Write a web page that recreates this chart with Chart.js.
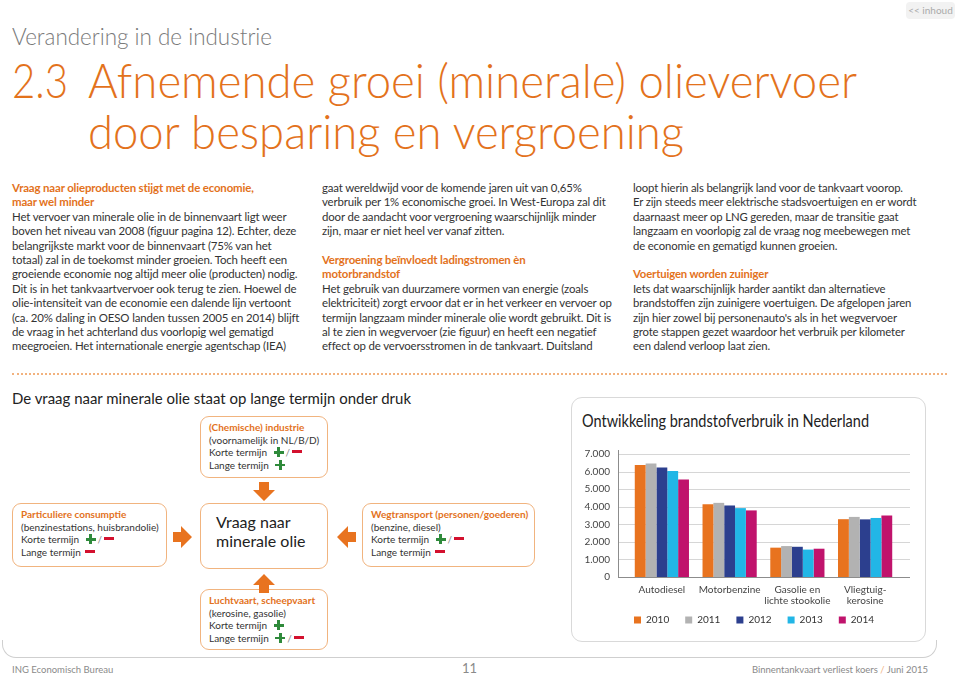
<!DOCTYPE html>
<html>
<head>
<meta charset="utf-8">
<script src="https://cdn.jsdelivr.net/npm/chart.js@4.4.1/dist/chart.umd.min.js"></script>
<style>
  html,body{margin:0;padding:0;background:#fff;}
  body{width:959px;height:676px;position:relative;overflow:hidden;font-family:Lato,"Open Sans",sans-serif;color:#333;}
  .abs{position:absolute;}
  .l{white-space:nowrap;width:max-content;}
  .fitx{display:inline-block;white-space:nowrap;transform-origin:0 50%;}
  .hb{color:#e3721c;font-weight:700;}
  .col{position:absolute;font-size:11.5px;line-height:14.4px;color:#333;letter-spacing:-0.15px;}
  .box{position:absolute;border:1px solid #f1b47f;border-radius:9px;background:#fff;box-sizing:border-box;font-size:10px;line-height:12.5px;color:#333;padding:4px 0 0 8px;}
  .box .t{color:#e3721c;font-weight:700;}
  .plus{display:inline-block;width:10px;height:10px;position:relative;vertical-align:-1px;margin-left:4px;}
  .plus::before{content:'';position:absolute;left:0;top:4px;width:10px;height:2.6px;background:#2f8a3b;}
  .plus::after{content:'';position:absolute;left:3.7px;top:0;width:2.6px;height:10px;background:#2f8a3b;}
  .minus{display:inline-block;width:10px;height:2.6px;background:#d3112e;vertical-align:3px;margin-left:2px;}
  .sl{color:#888;margin-left:2px;}
</style>
</head>
<body>

<!-- top-right nav -->
<div class="abs" style="left:906px;top:2px;width:49px;height:17px;background:#f2f2f2;border-radius:4px;font-size:10px;line-height:17px;text-align:center;color:#aaa;">&lt;&lt; inhoud</div>

<!-- headings -->
<div class="abs" style="left:12px;top:25px;font-size:23px;line-height:23px;font-weight:300;color:#7a7a7a;"><span id="h0" class="fitx">Verandering in de industrie</span></div>
<div class="abs" style="left:12px;top:57px;font-size:48px;line-height:46px;font-weight:300;color:#e3721c;"><span id="h1a" class="fitx">2.3</span></div>
<div class="abs" style="left:88px;top:57px;font-size:48px;line-height:46px;font-weight:300;color:#e3721c;"><span id="h1b" class="fitx">Afnemende groei (minerale) olievervoer</span></div>
<div class="abs" style="left:88px;top:108px;font-size:48px;line-height:46px;font-weight:300;color:#e3721c;"><span id="h2" class="fitx">door besparing en vergroening</span></div>

<!-- text columns -->
<div id="c1" class="col" style="left:12px;top:181px;">
  <div class="l hb">Vraag naar olieproducten stijgt met de economie,</div>
  <div class="l hb">maar wel minder</div>
  <div class="l">Het vervoer van minerale olie in de binnenvaart ligt weer</div>
  <div class="l">boven het niveau van 2008 (figuur pagina 12). Echter, deze</div>
  <div class="l">belangrijkste markt voor de binnenvaart (75% van het</div>
  <div class="l">totaal) zal in de toekomst minder groeien. Toch heeft een</div>
  <div class="l">groeiende economie nog altijd meer olie (producten) nodig.</div>
  <div class="l">Dit is in het tankvaartvervoer ook terug te zien. Hoewel de</div>
  <div class="l">olie-intensiteit van de economie een dalende lijn vertoont</div>
  <div class="l">(ca. 20% daling in OESO landen tussen 2005 en 2014) blijft</div>
  <div class="l">de vraag in het achterland dus voorlopig wel gematigd</div>
  <div class="l">meegroeien. Het internationale energie agentschap (IEA)</div>
</div>
<div id="c2" class="col" style="left:322px;top:181px;">
  <div class="l">gaat wereldwijd voor de komende jaren uit van 0,65%</div>
  <div class="l">verbruik per 1% economische groei. In West-Europa zal dit</div>
  <div class="l">door de aandacht voor vergroening waarschijnlijk minder</div>
  <div class="l">zijn, maar er niet heel ver vanaf zitten.</div>
  <div class="l">&nbsp;</div>
  <div class="l hb">Vergroening beïnvloedt ladingstromen èn</div>
  <div class="l hb">motorbrandstof</div>
  <div class="l">Het gebruik van duurzamere vormen van energie (zoals</div>
  <div class="l">elektriciteit) zorgt ervoor dat er in het verkeer en vervoer op</div>
  <div class="l">termijn langzaam minder minerale olie wordt gebruikt. Dit is</div>
  <div class="l">al te zien in wegvervoer (zie figuur) en heeft een negatief</div>
  <div class="l">effect op de vervoersstromen in de tankvaart. Duitsland</div>
</div>
<div id="c3" class="col" style="left:633px;top:181px;">
  <div class="l">loopt hierin als belangrijk land voor de tankvaart voorop.</div>
  <div class="l">Er zijn steeds meer elektrische stadsvoertuigen en er wordt</div>
  <div class="l">daarnaast meer op LNG gereden, maar de transitie gaat</div>
  <div class="l">langzaam en voorlopig zal de vraag nog meebewegen met</div>
  <div class="l">de economie en gematigd kunnen groeien.</div>
  <div class="l">&nbsp;</div>
  <div class="l hb">Voertuigen worden zuiniger</div>
  <div class="l">Iets dat waarschijnlijk harder aantikt dan alternatieve</div>
  <div class="l">brandstoffen zijn zuinigere voertuigen. De afgelopen jaren</div>
  <div class="l">zijn hier zowel bij personenauto's als in het wegvervoer</div>
  <div class="l">grote stappen gezet waardoor het verbruik per kilometer</div>
  <div class="l">een dalend verloop laat zien.</div>
</div>

<!-- dotted separator -->
<div class="abs" style="left:12px;top:373px;width:935px;height:0;border-top:2px dotted #f2b27e;"></div>

<!-- outer frame bottom -->
<div class="abs" style="left:2px;top:640px;width:935px;height:18px;border:1px solid #cfcfcf;border-top:none;border-radius:0 0 14px 14px;box-sizing:border-box;"></div>

<!-- diagram -->
<div class="abs" style="left:12px;top:388px;font-size:16px;line-height:20px;color:#222;"><span id="dt" class="fitx">De vraag naar minerale olie staat op lange termijn onder druk</span></div>

<div class="box" style="left:200px;top:416px;width:128px;height:62px;">
  <div class="l t">(Chemische) industrie</div>
  <div class="l">(voornamelijk in NL/B/D)</div>
  <div class="l">Korte termijn <span class="plus"></span><span class="sl">/</span><span class="minus"></span></div>
  <div class="l">Lange termijn <span class="plus"></span></div>
</div>
<div class="box" style="left:12px;top:503px;width:155px;height:64px;">
  <div class="l t">Particuliere consumptie</div>
  <div class="l">(benzinestations, huisbrandolie)</div>
  <div class="l">Korte termijn <span class="plus"></span><span class="sl">/</span><span class="minus"></span></div>
  <div class="l">Lange termijn <span class="minus"></span></div>
</div>
<div class="box" style="left:200px;top:503px;width:128px;height:66px;font-size:16px;line-height:19px;padding:8px 0 0 15px;color:#222;">
  <div class="l">Vraag naar</div>
  <div class="l">minerale olie</div>
</div>
<div class="box" style="left:362px;top:503px;width:173px;height:64px;">
  <div class="l t">Wegtransport (personen/goederen)</div>
  <div class="l">(benzine, diesel)</div>
  <div class="l">Korte termijn <span class="plus"></span><span class="sl">/</span><span class="minus"></span></div>
  <div class="l">Lange termijn <span class="minus"></span></div>
</div>
<div class="box" style="left:200px;top:589px;width:128px;height:61px;">
  <div class="l t">Luchtvaart, scheepvaart</div>
  <div class="l">(kerosine, gasolie)</div>
  <div class="l">Korte termijn <span class="plus"></span></div>
  <div class="l">Lange termijn <span class="plus"></span><span class="sl">/</span><span class="minus"></span></div>
</div>

<!-- arrows -->
<svg class="abs" style="left:253px;top:482px;" width="22" height="19"><polygon points="6,0 16,0 16,8 22,8 11,19 0,8 6,8" fill="#e8731f"/></svg>
<svg class="abs" style="left:253px;top:574px;" width="22" height="19"><polygon points="6,19 16,19 16,11 22,11 11,0 0,11 6,11" fill="#e8731f"/></svg>
<svg class="abs" style="left:173px;top:526px;" width="19" height="22"><polygon points="0,6 0,16 8,16 8,22 19,11 8,0 8,6" fill="#e8731f"/></svg>
<svg class="abs" style="left:337px;top:526px;" width="19" height="22"><polygon points="19,6 19,16 11,16 11,22 0,11 11,0 11,6" fill="#e8731f"/></svg>

<!-- chart card -->
<div class="abs" style="left:571px;top:397px;width:355px;height:245px;border:1px solid #d9d9d9;border-radius:11px;box-sizing:border-box;"></div>
<div class="abs" style="left:582px;top:411px;font-size:17px;line-height:20px;color:#222;"><span id="ct" class="fitx">Ontwikkeling brandstofverbruik in Nederland</span></div>
<div class="abs" style="left:571px;top:430px;width:370px;height:212px;"><canvas id="chart" width="370" height="212"></canvas></div>

<!-- footer -->
<div class="abs" style="left:12px;top:664px;font-size:9.5px;line-height:12px;color:#8a8a8a;white-space:nowrap;">ING Economisch Bureau</div>
<div class="abs" style="left:462px;top:661px;font-size:13px;line-height:14px;color:#8a8a8a;">11</div>
<div class="abs" style="right:31px;top:664px;text-align:right;font-size:9.5px;line-height:12px;color:#8a8a8a;white-space:nowrap;">Binnentankvaart verliest koers <span style="color:#f2b27e">/</span> Juni 2015</div>

<script>
// ---- data ----
const categories = [['Autodiesel'], ['Motorbenzine'], ['Gasolie en', 'lichte stookolie'], ['Vliegtuig-', 'kerosine']];
const years = ['2010', '2011', '2012', '2013', '2014'];
const values2010 = [6380, 4140, 1670, 3290];
const values2011 = [6460, 4220, 1760, 3420];
const values2012 = [6230, 4070, 1720, 3280];
const values2013 = [6030, 3920, 1560, 3360];
const values2014 = [5550, 3790, 1610, 3500];
const yTickValues = [0, 1000, 2000, 3000, 4000, 5000, 6000, 7000];

const seriesColors = ['#e8731f', '#b2b2b2', '#2c3f8e', '#22b6e6', '#c0136c'];
const seriesValues = [values2010, values2011, values2012, values2013, values2014];

function fmtNL(v){ return String(v).replace(/\B(?=(\d{3})+(?!\d))/g, '.'); }

// grid that extends a little past the category area, positioned by the y scale
const extGrid = {
  id: 'extGrid',
  afterLayout(chart){
    // lift the legend row closer to the category labels
    const lg = chart.legend;
    if (lg) { lg.top -= 7; lg.bottom -= 7; }
  },
  beforeDatasetsDraw(chart){
    const {ctx} = chart; const y = chart.scales.y;
    const x0 = 47, x1 = 339;
    ctx.save();
    ctx.lineWidth = 1;
    yTickValues.forEach(v => {
      const py = Math.round(y.getPixelForValue(v)) + 0.5;
      ctx.strokeStyle = v === 0 ? '#8c8c8c' : '#d6d6d6';
      ctx.beginPath(); ctx.moveTo(x0, py); ctx.lineTo(x1, py); ctx.stroke();
    });
    ctx.strokeStyle = '#8c8c8c';
    ctx.beginPath();
    ctx.moveTo(x0 + 0.5, y.getPixelForValue(7000) - 4);
    ctx.lineTo(x0 + 0.5, y.getPixelForValue(0) + 0.5);
    ctx.stroke();
    ctx.restore();
  }
};

Chart.defaults.font.family = 'Lato, "Open Sans", sans-serif';
new Chart(document.getElementById('chart'), {
  type: 'bar',
  data: {
    labels: categories,
    datasets: years.map((yr, i) => ({
      label: yr,
      data: seriesValues[i],
      backgroundColor: seriesColors[i],
      borderWidth: 0,
      categoryPercentage: 0.8,
      barPercentage: 1.0,
      yAxisID: 'y'
    }))
  },
  options: {
    responsive: false,
    animation: false,
    devicePixelRatio: 1,
    layout: { padding: { left: 0, right: 4, top: 18, bottom: 0 } },
    plugins: {
      legend: {
        position: 'bottom',
        labels: { boxWidth: 7, boxHeight: 7, padding: 16, color: '#333', font: { size: 10 } }
      },
      tooltip: { enabled: false }
    },
    scales: {
      x: {
        afterFit(scale){ scale.height = 29; },
        grid: { display: false, drawTicks: false },
        border: { display: false },
        ticks: { color: '#444', font: { size: 10, lineHeight: 1.1 }, padding: 7, maxRotation: 0, autoSkip: false }
      },
      y: {
        min: 0, max: 7000,
        afterFit(scale){ scale.width = 57; },
        afterBuildTicks(scale){ scale.ticks = yTickValues.map(v => ({value: v})); },
        grid: { display: false, drawTicks: false },
        border: { display: false },
        ticks: { color: '#444', font: { size: 10 }, padding: 18, callback: v => fmtNL(v) }
      },
      yRight: {
        type: 'linear',
        position: 'right',
        afterFit(scale){ scale.width = 38; },
        grid: { display: false, drawTicks: false },
        border: { display: false },
        ticks: { display: false }
      }
    }
  },
  plugins: [extGrid]
});

// ---- fit headings to reference widths ----
function fitX(id, w){
  const el = document.getElementById(id);
  el.style.transform = 'none';
  const cw = el.getBoundingClientRect().width;
  el.style.transform = 'scaleX(' + (w / cw) + ')';
}
function fitFont(id, idx, w){
  const b = document.getElementById(id);
  b.style.fontSize = '';
  const fs = parseFloat(getComputedStyle(b).fontSize);
  const cw = b.children[idx].getBoundingClientRect().width;
  b.style.fontSize = (fs * w / cw) + 'px';
}
function fitAll(){
  fitX('h0', 260);
  fitX('h1a', 56);
  fitX('h1b', 769);
  fitX('h2', 596);
  fitX('dt', 399);
  fitX('ct', 287);
  fitFont('c1', 2, 275);
  fitFont('c2', 8, 290);
  fitFont('c3', 1, 284);
}
fitAll();
if (document.fonts && document.fonts.ready) document.fonts.ready.then(fitAll);
</script>
</body>
</html>
